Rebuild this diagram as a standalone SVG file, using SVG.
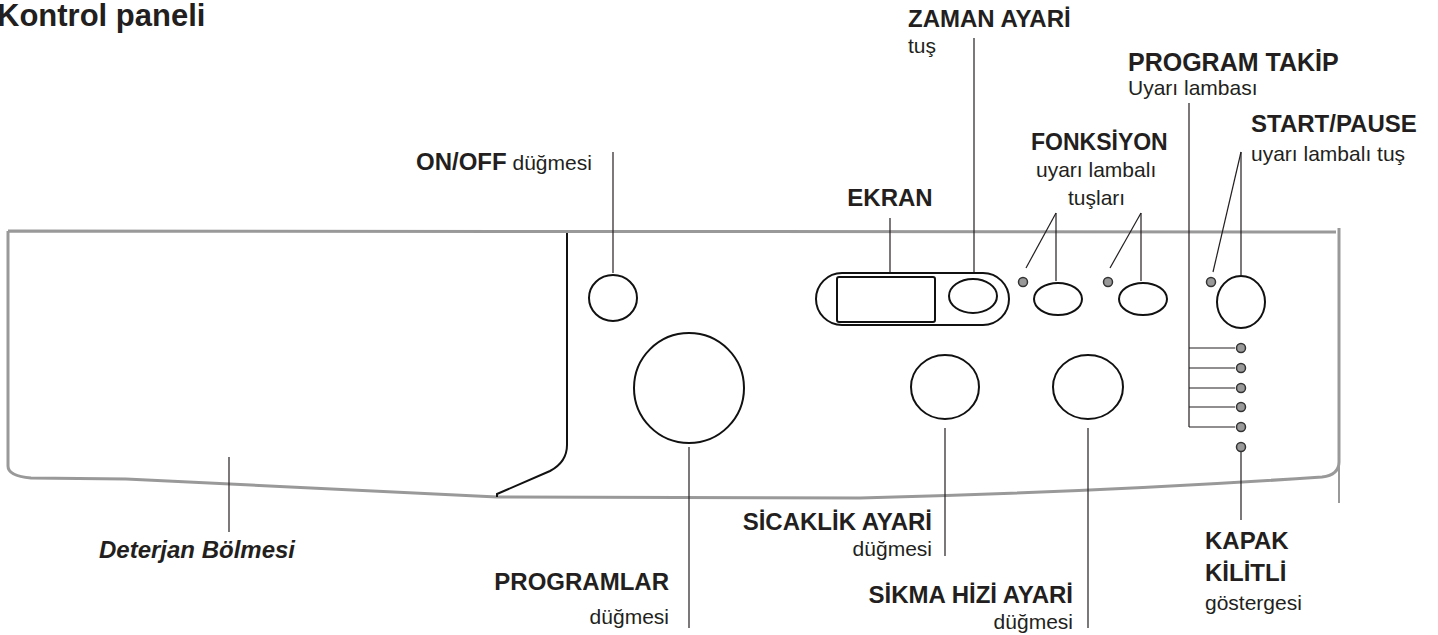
<svg xmlns="http://www.w3.org/2000/svg" width="1438" height="635" viewBox="0 0 1438 635">
<style>
text{font-family:"Liberation Sans",Arial,sans-serif;fill:#231f20}
.b{font-weight:bold;font-size:24px}
.r{font-size:21px}
.t{font-weight:bold;font-size:31px}
.bi{font-weight:bold;font-style:italic;font-size:24px}
.panel{fill:none;stroke:#999;stroke-width:3;stroke-linejoin:round}
.thin{fill:none;stroke:#999;stroke-width:2}
.div{fill:none;stroke:#111;stroke-width:2}
.ctl{fill:#fff;stroke:#111;stroke-width:2}
.led{fill:#999;stroke:#333;stroke-width:1.5}
.ln{stroke:#231f20;stroke-width:1.2;fill:none}
</style>
<rect width="1438" height="635" fill="#fff"/>
<text class="t" x="-3" y="26">Kontrol paneli</text>

<g id="panel">
<path class="panel" d="M8,231 L1336,232 M1339,228 L1339,462 Q1339,475 1322,477 Q1100,492 860,498 L497,497 L126,479 L31,478 Q8,476 8,466 L8,231"/>
<path class="thin" d="M1339,462 L1339,503"/>
<path class="div" d="M567,233 L567,445 Q567,462 550,471 L497,494 L497,497"/>
</g>

<g id="connectors">
<line class="ln" x1="613" y1="152" x2="613" y2="273"/>
<line class="ln" x1="974" y1="38" x2="974" y2="278"/>
<line class="ln" x1="890" y1="218" x2="890" y2="290"/>
<line class="ln" x1="1056" y1="213" x2="1026" y2="268"/>
<line class="ln" x1="1056" y1="213" x2="1056" y2="281"/>
<line class="ln" x1="1141" y1="213" x2="1110" y2="268"/>
<line class="ln" x1="1141" y1="213" x2="1141" y2="281"/>
<line class="ln" x1="1241" y1="152" x2="1213" y2="272"/>
<line class="ln" x1="1241" y1="152" x2="1241" y2="275"/>
<path class="ln" d="M1189,103 L1189,427 M1189,348 H1235 M1189,368 H1235 M1189,388 H1235 M1189,407 H1235 M1189,427 H1235"/>
<line class="ln" x1="1241" y1="452" x2="1241" y2="520"/>
<line class="ln" x1="689" y1="447" x2="689" y2="628"/>
<line class="ln" x1="945" y1="428" x2="945" y2="556"/>
<line class="ln" x1="1088" y1="428" x2="1088" y2="628"/>
<line class="ln" x1="229" y1="457" x2="229" y2="532"/>
</g>

<g id="onoff"><ellipse class="ctl" cx="613" cy="298" rx="24" ry="23"/><text x="416" y="170"><tspan class="b">ON/OFF</tspan><tspan class="r"> düğmesi</tspan></text></g>
<g id="display"><rect class="ctl" x="816" y="273" width="193" height="52" rx="26"/><rect class="ctl" x="837" y="277" width="98" height="45" rx="2"/><text class="b" x="890" y="206" text-anchor="middle">EKRAN</text></g>
<g id="time"><ellipse class="ctl" cx="973" cy="296" rx="24" ry="17"/><text class="b" x="908" y="27">ZAMAN AYARİ</text><text class="r" x="908" y="53">tuş</text></g>
<g id="func"><circle class="led" cx="1023" cy="282" r="4.5"/><ellipse class="ctl" cx="1058" cy="299" rx="24" ry="16"/><circle class="led" cx="1108" cy="282" r="4.5"/><ellipse class="ctl" cx="1143" cy="299" rx="24" ry="16"/><text class="b" x="1031" y="150" style="font-size:23px">FONKSİYON</text><text class="r" x="1036" y="177">uyarı lambalı</text><text class="r" x="1068" y="205">tuşları</text></g>
<g id="start"><circle class="led" cx="1211" cy="282" r="4.5"/><ellipse class="ctl" cx="1241" cy="302" rx="24" ry="26"/><text class="b" x="1251" y="132">START/PAUSE</text><text class="r" x="1251" y="161">uyarı lambalı tuş</text></g>
<g id="progtakip"><circle class="led" cx="1241" cy="348" r="4.5"/><circle class="led" cx="1241" cy="368" r="4.5"/><circle class="led" cx="1241" cy="388" r="4.5"/><circle class="led" cx="1241" cy="407" r="4.5"/><circle class="led" cx="1241" cy="427" r="4.5"/><text class="b" x="1128" y="71" style="font-size:25px">PROGRAM TAKİP</text><text class="r" x="1128" y="95">Uyarı lambası</text></g>
<g id="kapak"><circle class="led" cx="1241" cy="447" r="4.5"/><text class="b" x="1205" y="549">KAPAK</text><text class="b" x="1205" y="581">KİLİTLİ</text><text class="r" x="1205" y="610">göstergesi</text></g>
<g id="programs"><circle class="ctl" cx="689" cy="388" r="55"/><text class="b" x="669" y="590" text-anchor="end">PROGRAMLAR</text><text class="r" x="669" y="624" text-anchor="end">düğmesi</text></g>
<g id="temp"><ellipse class="ctl" cx="945" cy="387" rx="34" ry="32"/><text class="b" x="932" y="530" text-anchor="end">SİCAKLİK AYARİ</text><text class="r" x="932" y="556" text-anchor="end">düğmesi</text></g>
<g id="spin"><ellipse class="ctl" cx="1088" cy="387" rx="35" ry="32"/><text class="b" x="1073" y="603" text-anchor="end">SİKMA HİZİ AYARİ</text><text class="r" x="1073" y="629" text-anchor="end">düğmesi</text></g>
<g id="deterjan"><text class="bi" x="197" y="558" text-anchor="middle">Deterjan Bölmesi</text></g>
</svg>
